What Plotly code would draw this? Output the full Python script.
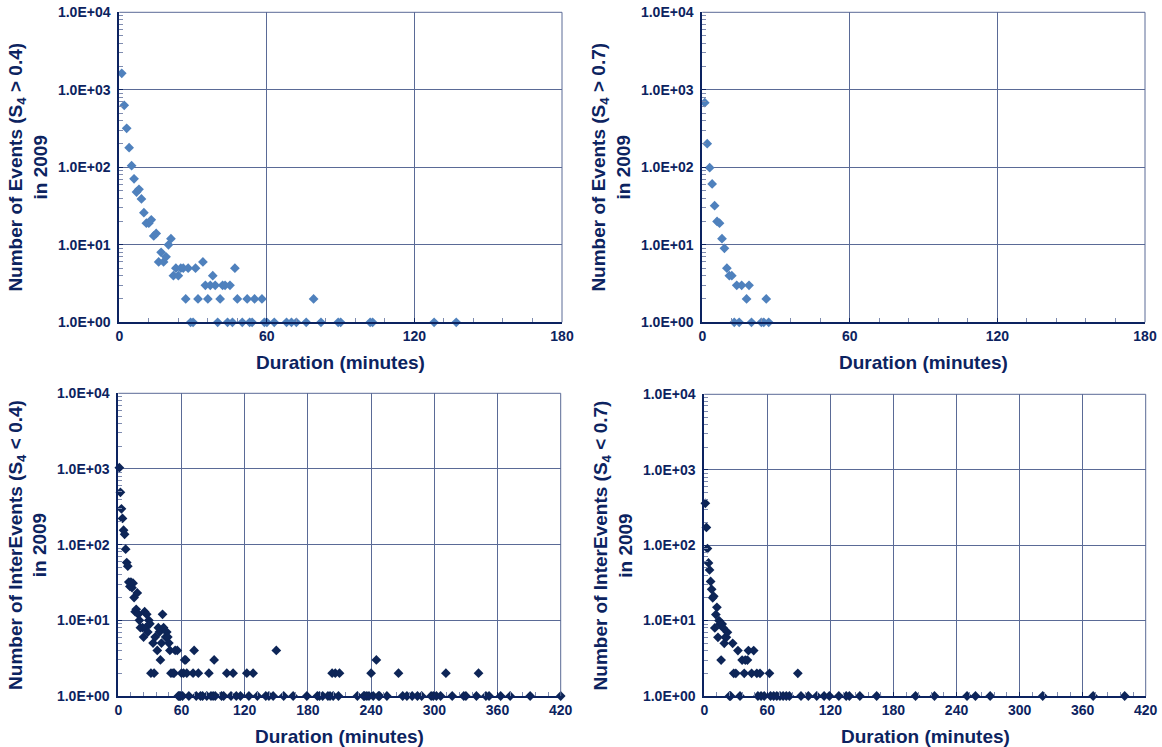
import plotly.graph_objects as go

# ---------------- data ----------------
# Panel A: events S4 > 0.4 (duration in minutes, count)
ev04_x = [1, 2, 3, 4, 5, 6, 7, 8, 9, 10, 11, 12, 13, 14, 15, 16, 17, 18, 19, 20, 21,
          22, 23, 24, 25, 26, 27, 28, 29, 30, 31, 32, 34, 35, 36, 37, 38, 39, 40, 41,
          42, 43, 44, 45, 46, 47, 48, 50, 52, 53, 54, 55, 58, 59, 60, 63, 68, 70, 72,
          76, 79, 82, 89, 90, 102, 103, 128, 137]
ev04_y = [1630, 630, 318, 179, 105, 71, 48, 52, 39, 26, 19, 19, 21, 13, 14, 6, 8, 6, 7, 10, 12,
          4, 5, 4, 5, 5, 2, 5, 1, 1, 5, 2, 6, 3, 2, 3, 4, 3, 1, 2,
          3, 3, 1, 3, 1, 5, 2, 1, 2, 1, 1, 2, 2, 1, 1, 1, 1, 1, 1,
          1, 2, 1, 1, 1, 1, 1, 1, 1]

# Panel B: events S4 > 0.7
ev07_x = [1, 2, 3, 4, 5, 6, 7, 8, 9, 10, 11, 12, 13, 14, 15, 16, 18, 19, 20, 24, 25, 26, 27]
ev07_y = [683, 202, 99, 61, 32, 20, 19, 12, 9, 5, 4, 4, 1, 3, 1, 3, 2, 3, 1, 1, 1, 2, 1]

# Panel C: inter-events S4 < 0.4
ie04_x = [1, 2, 3, 4, 5, 6, 7, 8, 9, 10, 11, 12, 13, 14, 15, 16, 17, 18, 19, 20,
          21, 23, 24, 25, 26, 27, 28, 29, 30, 31, 33, 34, 35, 37, 38, 39, 40, 41, 42,
          43, 45, 46, 47, 48, 49, 50, 52, 53, 54, 56, 60, 62, 63, 64, 65, 71, 72, 76,
          86, 91, 103, 109, 122, 128, 150, 203, 206, 210, 240, 245, 266, 311, 342,
          57, 58, 59, 61, 67, 74, 78, 80, 84, 88, 90, 92, 98, 100, 107, 112, 116, 124,
          132, 140, 143, 147, 157, 166, 179, 189, 191, 194, 199, 201, 204, 209, 227, 233,
          234, 236, 238, 242, 247, 248, 255, 270, 274, 279, 284, 288, 297, 299, 302, 306,
          317, 328, 330, 340, 349, 352, 363, 372, 391, 420]
ie04_y = [1040, 492, 297, 222, 155, 137, 87, 58, 52, 32, 28, 32, 27, 31, 20, 13, 14, 23, 12, 10,
          8, 8, 6, 13, 8, 12, 7, 10, 9, 2, 5, 2, 6, 4, 8, 7, 3, 5, 12,
          8, 6, 7, 6, 5, 4, 2, 2, 2, 4, 4, 2, 2, 3, 3, 2, 2, 4, 2,
          2, 3, 2, 2, 2, 2, 4, 2, 2, 2, 2, 3, 2, 2, 2,
          1, 1, 1, 1, 1, 1, 1, 1, 1, 1, 1, 1, 1, 1, 1, 1, 1, 1,
          1, 1, 1, 1, 1, 1, 1, 1, 1, 1, 1, 1, 1, 1, 1, 1,
          1, 1, 1, 1, 1, 1, 1, 1, 1, 1, 1, 1, 1, 1, 1, 1,
          1, 1, 1, 1, 1, 1, 1, 1, 1, 1]

# Panel D: inter-events S4 < 0.7
ie07_x = [1, 2, 3, 4, 5, 6, 7, 8, 9, 10, 11, 12, 13, 14, 15, 16, 17, 18, 19, 20, 21, 22,
          24, 25, 27, 28, 30, 32, 34, 36, 38, 39, 41, 42, 45, 47, 50, 51, 53, 54, 57, 62,
          63, 66, 69, 72, 75, 78, 81, 89, 92, 99, 107, 114, 119, 128, 135, 138, 148, 164,
          201, 219, 250, 258, 272, 322, 370, 400]
ie07_y = [359, 172, 90, 58, 47, 33, 26, 20, 21, 8, 12, 15, 6, 10, 9, 3, 9, 8, 5, 6, 6, 7,
          1, 1, 5, 2, 2, 4, 1, 3, 2, 3, 3, 4, 2, 4, 2, 1, 2, 1, 1, 2,
          1, 1, 1, 1, 1, 1, 1, 2, 1, 1, 1, 1, 1, 1, 1, 1, 1, 1,
          1, 1, 1, 1, 1, 1, 1, 1]

y_tickvals = [1, 10, 100, 1000, 10000]
y_ticktext = ["1.0E+00", "1.0E+01", "1.0E+02", "1.0E+03", "1.0E+04"]
x_ticks_short = [0, 60, 120, 180]
x_ticks_long = [0, 60, 120, 180, 240, 300, 360, 420]

ytitles = ["Number of Events (S<sub>4</sub> > 0.4)<br>in 2009",
           "Number of Events (S<sub>4</sub> > 0.7)<br>in 2009",
           "Number of InterEvents (S<sub>4</sub> < 0.4)<br>in 2009",
           "Number of InterEvents (S<sub>4</sub> < 0.7)<br>in 2009"]

# ---------------- styling ----------------
W, H = 1162, 747
TEXT = "#0c2360"
AXIS = "#0c2360"
GRID = "#5a6a96"
LIGHT_BLUE = "#4f81bd"
NAVY = "#0d2557"
FONT = "Liberation Sans, Arial, sans-serif"

# panel pixel boxes in window coordinates: (x0, x1, ytop, ybottom)
boxes = [(119.3, 562.0, 12.3, 322.3),
         (702.3, 1145.0, 12.3, 322.3),
         (118.3, 560.7, 393.3, 696.0),
         (704.3, 1145.7, 394.3, 696.0)]

series = [(ev04_x, ev04_y, LIGHT_BLUE, 180, x_ticks_short),
          (ev07_x, ev07_y, LIGHT_BLUE, 180, x_ticks_short),
          (ie04_x, ie04_y, NAVY, 420, x_ticks_long),
          (ie07_x, ie07_y, NAVY, 420, x_ticks_long)]

minor_y = [m * 10 ** d for d in range(4) for m in range(2, 10)]


def px(x):
    return x / W


def py(y):
    return 1 - y / H


fig = go.Figure()
layout = dict(width=W, height=H,
              margin=dict(l=0, r=0, t=0, b=0, pad=0, autoexpand=False),
              paper_bgcolor="white", plot_bgcolor="white", showlegend=False,
              font=dict(family=FONT, color=TEXT))
annotations = []
shapes = []

for i, ((x0, x1, yt, yb), (xs, ys, col, xmax, xt)) in enumerate(zip(boxes, series)):
    n = "" if i == 0 else str(i + 1)
    xa, ya = "x" + n, "y" + n
    fig.add_trace(go.Scatter(x=xs, y=ys, mode="markers", xaxis=xa, yaxis=ya,
                             cliponaxis=False,
                             marker=dict(symbol="diamond", size=7.5, color=col,
                                         line=dict(width=0))))
    layout["xaxis" + n] = dict(
        domain=[px(x0), px(x1)], anchor=ya, range=[0, xmax], automargin=False,
        tickmode="array", tickvals=xt, ticktext=[str(v) for v in xt],
        showgrid=True, gridcolor=GRID, gridwidth=1, zeroline=False,
        showline=True, linecolor=AXIS, linewidth=2,
        ticks="inside", ticklen=4, tickcolor=AXIS,
        minor=dict(tickmode="linear", tick0=0, dtick=12, ticks="inside",
                   ticklen=4, tickcolor="#7f8cb0", showgrid=False),
        tickfont=dict(family=FONT, size=14, color=TEXT, weight="bold"),
        fixedrange=True)
    layout["yaxis" + n] = dict(
        domain=[py(yb), py(yt)], anchor=xa, type="log", range=[0, 4],
        automargin=False,
        tickmode="array", tickvals=y_tickvals, ticktext=y_ticktext,
        showgrid=True, gridcolor=GRID, gridwidth=1, zeroline=False,
        showline=True, linecolor=AXIS, linewidth=2,
        ticks="inside", ticklen=4, tickcolor=AXIS,
        minor=dict(tickmode="array", tickvals=minor_y, ticks="inside",
                   ticklen=4, tickcolor="#7f8cb0", showgrid=False),
        tickfont=dict(family=FONT, size=14, color=TEXT, weight="bold"),
        ticklabelstandoff=4, fixedrange=True)
    # top & right border lines
    shapes.append(dict(type="line", xref=xa + " domain", yref=ya + " domain",
                       x0=0, x1=1, y0=1, y1=1, line=dict(color=GRID, width=1)))
    shapes.append(dict(type="line", xref=xa + " domain", yref=ya + " domain",
                       x0=1, x1=1, y0=0, y1=1, line=dict(color=GRID, width=1)))
    # x title
    annotations.append(dict(text="Duration (minutes)", xref="paper", yref="paper",
                            x=px((x0 + x1) / 2), y=py(yb + 40),
                            xanchor="center", yanchor="middle", showarrow=False,
                            font=dict(family=FONT, size=19, color=TEXT, weight="bold")))
    # y title
    annotations.append(dict(text=ytitles[i], xref="paper", yref="paper",
                            x=px(x0 - 91), y=py((yt + yb) / 2),
                            xanchor="center", yanchor="middle", showarrow=False,
                            textangle=-90,
                            font=dict(family=FONT, size=19, color=TEXT, weight="bold")))

layout["annotations"] = annotations
layout["shapes"] = shapes
fig.update_layout(**layout)
fig.write_html("out.html",
               config={"displayModeBar": False},
               post_script="document.body.style.margin='0px';"
                           "document.body.style.overflow='hidden';")
